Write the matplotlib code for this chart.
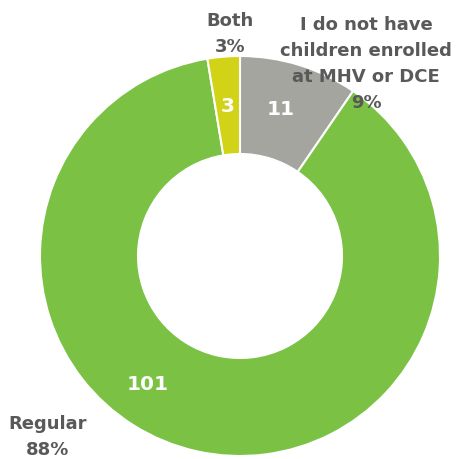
import matplotlib
matplotlib.use("Agg")
import matplotlib.pyplot as plt
import numpy as np

# slice data, clockwise from 12 o'clock
categories = ["I do not have\nchildren enrolled\nat MHV or DCE", "Regular", "Both"]
counts = [11, 101, 3]
percents = ["9%", "88%", "3%"]
colors = ["#a5a59f", "#7bc143", "#d2d216"]

fig = plt.figure(figsize=(4.61, 4.60), dpi=100)
ax = fig.add_axes([0, 0, 1, 1])

wedges, _ = ax.pie(counts, colors=colors, startangle=90, counterclock=False,
                   radius=1.0,
                   wedgeprops=dict(width=0.49, edgecolor="white", linewidth=1.5))

ax.set_xlim(-1.2, 1.105)
ax.set_ylim(-1.015, 1.285)
ax.set_aspect("equal")
ax.axis("off")

# value labels at the middle of the ring
value_pos = [(0.205, 0.735), (-0.46, -0.64), None]
total = sum(counts)
start = 90.0
for i, c in enumerate(counts):
    sweep = c / total * 360
    mid = np.deg2rad(start - sweep / 2)
    start -= sweep
    pos = value_pos[i] or (0.755 * np.cos(mid), 0.755 * np.sin(mid))
    ax.text(pos[0], pos[1], str(c), color="white", fontsize=14.5,
            fontweight="bold", ha="center", va="center")

# category labels outside, one text per line so each line sits tight
label_pos = [(0.63, 0.965), (-0.96, -0.9), (-0.05, 1.117)]
step = 0.13
for name, pct, pos in zip(categories, percents, label_pos):
    lines = name.split("\n") + [pct]
    top = pos[1] + step * (len(lines) - 1) / 2
    for k, line in enumerate(lines):
        ax.text(pos[0], top - k * step, line, color="#595959", fontsize=13,
                fontweight="bold", ha="center", va="center")

fig.savefig("out.png", dpi=100)
